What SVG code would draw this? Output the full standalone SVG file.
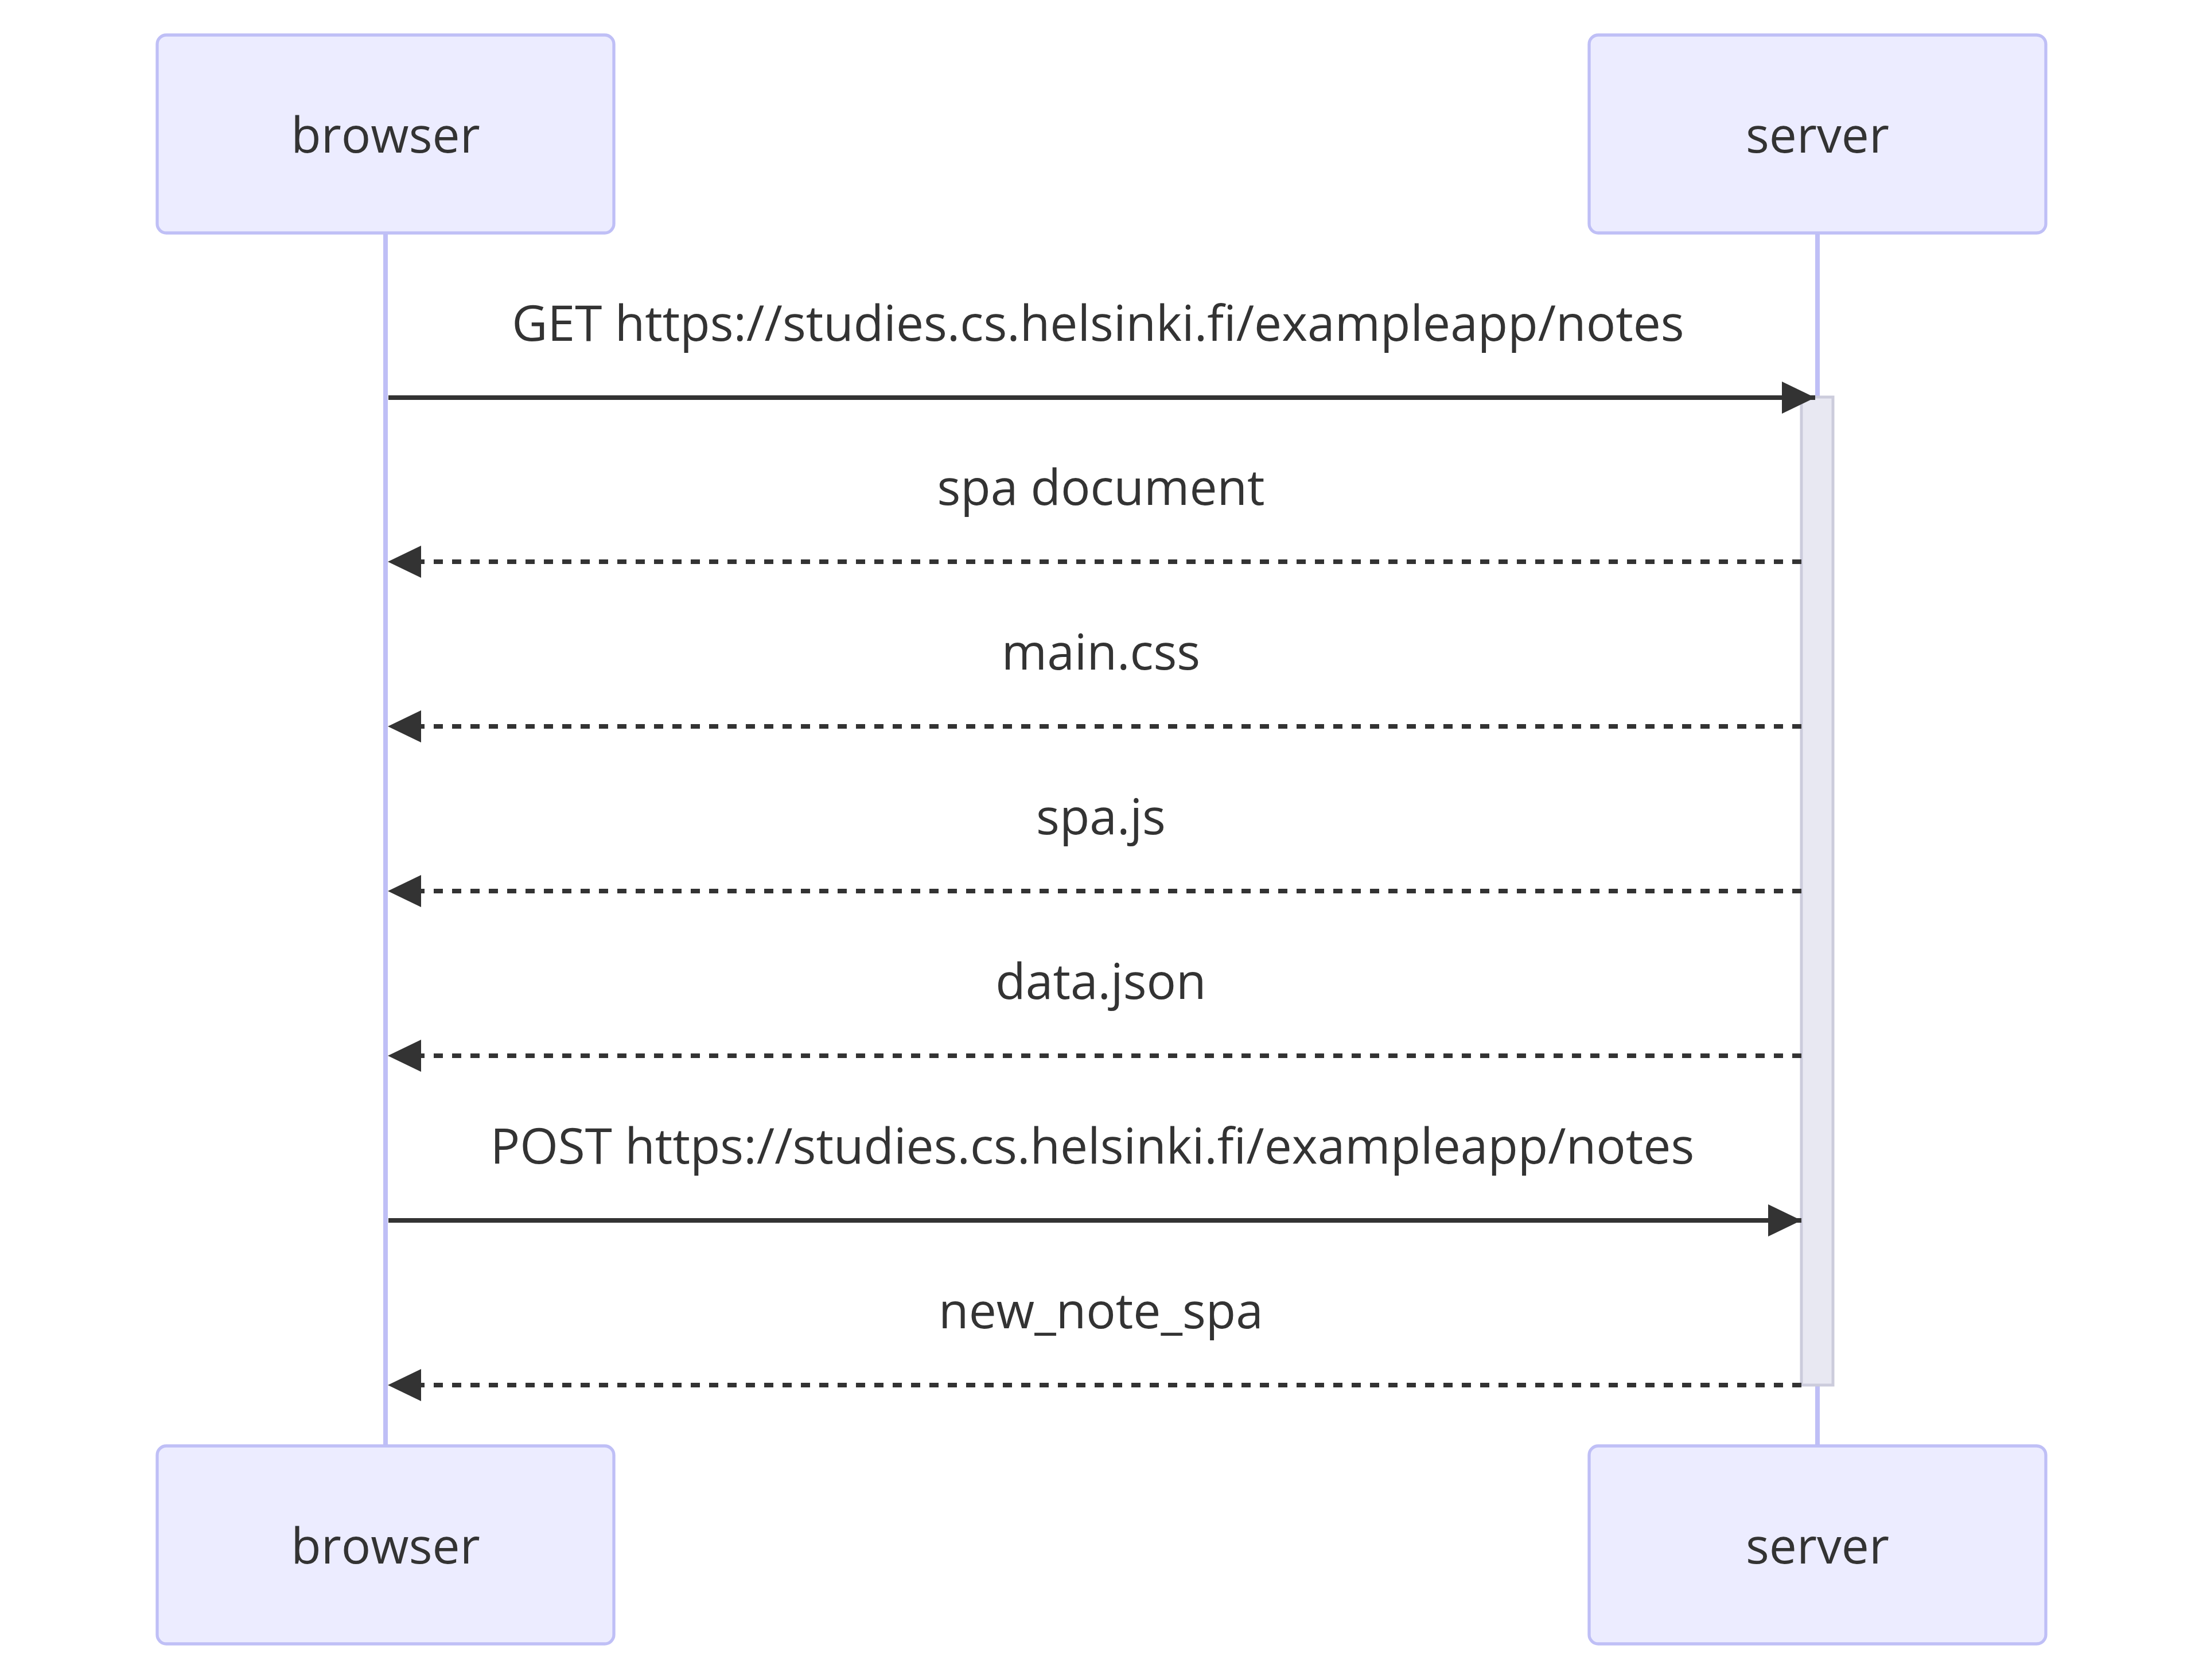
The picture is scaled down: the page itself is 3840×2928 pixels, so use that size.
<svg xmlns="http://www.w3.org/2000/svg" width="3840" height="2928" viewBox="0 0 3840 2928">
<style>
.actor{fill:#ECECFF;stroke:#BFBFF6;stroke-width:5.3}
.lbl{font-family:"Open Sans","Noto Sans",sans-serif;font-size:85.7px;fill:#333;text-anchor:middle}
.life{stroke:#BFBFF6;stroke-width:8}
.msg{stroke:#333;stroke-width:8;fill:none}
.dash{stroke-dasharray:16,16}
.act{fill:#E8E8F2;stroke:#CCCCDC;stroke-width:5}
</style>
<defs>
<marker id="ah" markerUnits="userSpaceOnUse" markerWidth="60" markerHeight="58" refX="58" refY="28" orient="auto">
<path d="M0,0 L58,28 L0,56 z" fill="#333"/>
</marker>
</defs>
<rect width="3840" height="2928" fill="#fff"/>
<g id="lifelines">
<line class="life" x1="672" y1="406" x2="672" y2="2520"/>
<line class="life" x1="3168" y1="406" x2="3168" y2="2520"/>
</g>
<g id="browser-top"><rect class="actor" x="274" y="61" width="796" height="345" rx="16"/><text class="lbl" x="672" y="266">browser</text></g>
<g id="server-top"><rect class="actor" x="2770" y="61" width="796" height="345" rx="16"/><text class="lbl" x="3168" y="266">server</text></g>
<g id="browser-bottom"><rect class="actor" x="274" y="2520" width="796" height="345" rx="16"/><text class="lbl" x="672" y="2725">browser</text></g>
<g id="server-bottom"><rect class="actor" x="2770" y="2520" width="796" height="345" rx="16"/><text class="lbl" x="3168" y="2725">server</text></g>
<g id="activation"><rect class="act" x="3140" y="692" width="55" height="1722"/></g>
<g id="connectors">
<line class="msg" x1="677" y1="693" x2="3164" y2="693" marker-end="url(#ah)"/>
<line class="msg dash" x1="3140" y1="979" x2="676" y2="979" marker-end="url(#ah)"/>
<line class="msg dash" x1="3140" y1="1266" x2="676" y2="1266" marker-end="url(#ah)"/>
<line class="msg dash" x1="3140" y1="1553" x2="676" y2="1553" marker-end="url(#ah)"/>
<line class="msg dash" x1="3140" y1="1840" x2="676" y2="1840" marker-end="url(#ah)"/>
<line class="msg" x1="677" y1="2127" x2="3140" y2="2127" marker-end="url(#ah)"/>
<line class="msg dash" x1="3140" y1="2414" x2="676" y2="2414" marker-end="url(#ah)"/>
</g>
<g id="labels">
<text class="lbl" x="1914" y="594">GET https://studies.cs.helsinki.fi/exampleapp/notes</text>
<text class="lbl" x="1919" y="880">spa document</text>
<text class="lbl" x="1919" y="1167">main.css</text>
<text class="lbl" x="1919" y="1454">spa.js</text>
<text class="lbl" x="1919" y="1741">data.json</text>
<text class="lbl" x="1904" y="2028">POST https://studies.cs.helsinki.fi/exampleapp/notes</text>
<text class="lbl" x="1919" y="2315">new_note_spa</text>
</g>
</svg>
